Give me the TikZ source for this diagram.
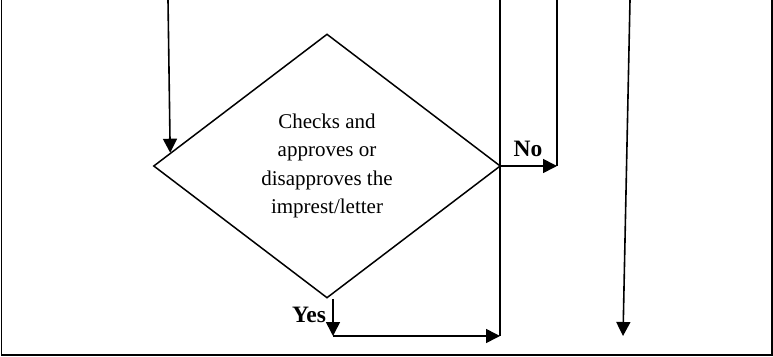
\documentclass[tikz,border=0pt]{standalone}
\usepackage{fontspec}
\setmainfont{Liberation Serif}
\usetikzlibrary{shapes.geometric,arrows.meta,calc}

\tikzset{
  frameline/.style={line width=1.5pt},
  link/.style={line width=1.6pt},
  arrowlink/.style={link, -{Triangle[length=14pt,width=14pt]}},
  decision/.style={draw, line width=1.5pt, shape=diamond, inner sep=0pt,
    minimum width=347pt, minimum height=264pt, align=center,
    font=\fontsize{21}{28.3}\selectfont},
  branchlabel/.style={font=\fontsize{23.5}{28}\selectfont\bfseries, inner sep=0pt}
}

\begin{document}
\begin{tikzpicture}[x=1pt, y=-1pt]
  \useasboundingbox (0,0) rectangle (773,356);

  % open frame: left, bottom and right sides
  \draw[frameline] (1.5,0) -- (1.5,355) -- (772,355) -- (772,0);

  % decision
  \node[decision] (dia) at (327,166)
    {Checks and\\approves or\\disapproves the\\imprest/letter};

  % incoming flow from above
  \coordinate (inTop) at (168,0);
  \draw[arrowlink] (inTop) -- ($(dia.west)!0.1!(dia.north)$);

  % "No" branch
  \coordinate (noTop) at (557,0);
  \coordinate (noEnd) at (557,166);
  \draw[link] (noTop) -- (noEnd);
  \draw[arrowlink] (dia.east) -- (noEnd);
  \node[branchlabel] (nolab) at (528,149) {No};

  % return line on the right of the decision
  \coordinate (backTop) at (500,0);
  \coordinate (join) at (500,336);
  \draw[link] (backTop) -- (join);

  % "Yes" branch
  \coordinate (yesTop) at ($(dia.south)+(6,0)$);
  \coordinate (yesCorner) at (333,336);
  \draw[arrowlink] (yesTop) -- (yesCorner);
  \draw[arrowlink] (yesCorner) -- (join);
  \node[branchlabel] (yeslab) at (309,315) {Yes};

  % flow passing on the far right
  \coordinate (farTop) at (630,0);
  \coordinate (farEnd) at (623,336);
  \draw[arrowlink] (farTop) -- (farEnd);
\end{tikzpicture}
\end{document}
